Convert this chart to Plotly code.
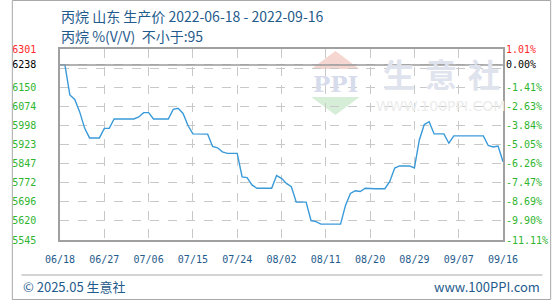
import plotly.graph_objects as go
import pandas as pd

# ---------------- data ----------------
start_date = "2022-06-18"
prices = [
    6238, 6238, 6119, 6101, 6052, 5988, 5949, 5949, 5949, 5987,
    5987, 6024, 6024, 6024, 6024, 6024, 6032, 6049, 6049, 6024,
    6024, 6024, 6024, 6062, 6066, 6046, 5998, 5965, 5965, 5965,
    5964, 5915, 5910, 5894, 5888, 5888, 5888, 5795, 5792, 5763,
    5750, 5750, 5750, 5750, 5800, 5789, 5769, 5756, 5695, 5695,
    5695, 5622, 5618, 5608, 5608, 5608, 5608, 5608, 5682, 5729,
    5740, 5737, 5750, 5748, 5748, 5748, 5748, 5777, 5830, 5838,
    5838, 5838, 5830, 5941, 6002, 6013, 5965, 5965, 5965, 5928,
    5957, 5957, 5957, 5957, 5957, 5957, 5957, 5919, 5913, 5917,
    5855,
]
dates = pd.date_range(start_date, periods=len(prices), freq="D")

base_price = 6238
y_min, y_max = 5545, 6301
y_tick_vals = [5545, 5620.6, 5696.2, 5771.8, 5847.4, 5923.0, 5998.6, 6074.2, 6149.8, 6225.4, 6238, 6301]
y_tick_text = ["5545", "5620", "5696", "5772", "5847", "5923", "5998", "6074", "6150", "", "6238", "6301"]
pct_tick_text = ["-11.11%", "-9.90%", "-8.69%", "-7.47%", "-6.26%", "-5.05%", "-3.84%", "-2.63%", "-1.41%", "", "0.00%", "1.01%"]
x_tick_labels = ["06/18", "06/27", "07/06", "07/15", "07/24", "08/02", "08/11", "08/20", "08/29", "09/07", "09/16"]
x_tick_dates = pd.date_range(start_date, periods=len(x_tick_labels), freq="9D")

title_line1 = "丙烷 山东 生产价 2022-06-18 - 2022-09-16"
title_line2 = "丙烷 %(V/V)  不小于:95"
footer_left = "© 2025.05 生意社"
footer_right = "www.100PPI.com"
watermark_chars = ["生", "意", "社"]
watermark_url = "WWW.100PPI.COM"

# ---------------- styling ----------------
RED, BLACK, GREEN = "#ff2a2a", "#000000", "#2fb52f"
TXT_BLUE = "#1f5b8c"
GRID = "#c8c8c8"
FRAME = "#a0a0a0"
LINE = "#3a9ad9"
MONO = "DejaVu Sans Mono, monospace"
CJK = "Noto Sans CJK SC, Noto Sans, sans-serif"


def colour_for(label):
    if label in ("6301", "1.01%"):
        return RED
    if label in ("6238", "0.00%"):
        return BLACK
    return GREEN


def coloured(labels):
    return [f"<span style='color:{colour_for(t)}'>{t}</span>" if t else "" for t in labels]


pct_vals = [(v - base_price) / base_price * 100 for v in y_tick_vals]
pct_range = [(y_min - base_price) / base_price * 100, (y_max - base_price) / base_price * 100]

# pixel -> paper helpers (plot area: x 50..510, y 49..240)
L, R, T, B = 50, 510, 49, 240
def px(x):
    return (x - L) / (R - L)
def py(y):
    return (B - y) / (B - T)

fig = go.Figure()
fig.add_trace(go.Scatter(
    x=dates, y=prices, mode="lines",
    line=dict(color=LINE, width=1.4),
    hoverinfo="skip", showlegend=False,
))
# invisible trace on secondary axis so it renders
fig.add_trace(go.Scatter(
    x=[dates[0]], y=[0], yaxis="y2", mode="markers",
    marker=dict(opacity=0), hoverinfo="skip", showlegend=False,
))

fig.update_layout(
    width=560, height=300,
    margin=dict(l=L, r=560 - R, t=T, b=300 - B),
    paper_bgcolor="white", plot_bgcolor="white",
    xaxis=dict(
        type="date",
        range=[dates[0], dates[-1]],
        tickvals=x_tick_dates, ticktext=x_tick_labels,
        showgrid=True, gridcolor=GRID, griddash="dash", gridwidth=1,
        showline=True, linecolor=FRAME, linewidth=1.5, mirror=True,
        ticks="", ticklabelstandoff=9,
        tickfont=dict(family=MONO, size=10, color=TXT_BLUE),
        zeroline=False,
    ),
    yaxis=dict(
        range=[y_min, y_max],
        tickvals=y_tick_vals, ticktext=coloured(y_tick_text),
        showgrid=True, gridcolor=GRID, griddash="dash", gridwidth=1,
        showline=True, linecolor=FRAME, linewidth=1.5, mirror=True,
        ticks="", ticklabelstandoff=20,
        tickfont=dict(family=MONO, size=10, color=GREEN),
        zeroline=False,
    ),
    yaxis2=dict(
        overlaying="y", side="right",
        range=pct_range,
        tickvals=pct_vals, ticktext=coloured(pct_tick_text),
        showgrid=False, showline=False, ticks="", ticklabelstandoff=2,
        tickfont=dict(family=MONO, size=10, color=GREEN),
        zeroline=False,
    ),
    font=dict(family=CJK),
)

shapes = [
    # base price line (0.00%)
    dict(type="line", xref="paper", yref="y", x0=0, x1=1, y0=base_price, y1=base_price,
         line=dict(color="#9a9a9a", width=1.5)),
    # outer border
    dict(type="rect", xref="paper", yref="paper", x0=px(0.5), x1=px(559.5), y0=py(0.5), y1=py(299.5),
         line=dict(color="#a8a8a8", width=1)),
    # footer separator
    dict(type="line", xref="paper", yref="paper", x0=px(10), x1=px(551), y0=py(275), y1=py(275),
         line=dict(color="#a8a8a8", width=1)),
    # watermark logo triangles
    dict(type="path", xref="paper", yref="paper", layer="below",
         path=f"M {px(336)} {py(51)} L {px(361)} {py(69)} L {px(311)} {py(69)} Z",
         fillcolor="#f6d6d0", line=dict(width=0)),
    dict(type="path", xref="paper", yref="paper", layer="below",
         path=f"M {px(311)} {py(97)} L {px(361)} {py(97)} L {px(336)} {py(115)} Z",
         fillcolor="#d6eed8", line=dict(width=0)),
]
fig.update_layout(shapes=shapes)

annotations = [
    dict(text=title_line1, x=px(49), y=py(16), xref="paper", yref="paper",
         xanchor="left", yanchor="middle", showarrow=False,
         font=dict(size=14, color=TXT_BLUE, family=CJK)),
    dict(text=title_line2, x=px(49), y=py(36), xref="paper", yref="paper",
         xanchor="left", yanchor="middle", showarrow=False,
         font=dict(size=14, color=TXT_BLUE, family=CJK)),
    dict(text=footer_left, x=px(10), y=py(286), xref="paper", yref="paper",
         xanchor="left", yanchor="middle", showarrow=False,
         font=dict(size=13, color=TXT_BLUE, family=CJK)),
    dict(text=footer_right, x=px(550), y=py(286), xref="paper", yref="paper",
         xanchor="right", yanchor="middle", showarrow=False,
         font=dict(size=13, color=TXT_BLUE, family=CJK)),
    # watermark
    dict(text="<b>PPI</b>", x=px(336), y=py(83), xref="paper", yref="paper",
         xanchor="center", yanchor="middle", showarrow=False,
         font=dict(size=23, color="#d6dcec", family="DejaVu Serif, serif")),
    dict(text=watermark_url, x=px(445), y=py(106), xref="paper", yref="paper",
         xanchor="center", yanchor="middle", showarrow=False,
         font=dict(size=14, color="#ececec", family="DejaVu Sans, sans-serif")),
]
for ch, cx in zip(watermark_chars, [402, 446, 490]):
    annotations.append(dict(text=f"<b>{ch}</b>", x=px(cx), y=py(73), xref="paper", yref="paper",
                            xanchor="center", yanchor="middle", showarrow=False,
                            font=dict(size=32, color="#dfe3ed", family="Noto Sans CJK SC")))
fig.update_layout(annotations=annotations)

fig.write_html("out.html")
